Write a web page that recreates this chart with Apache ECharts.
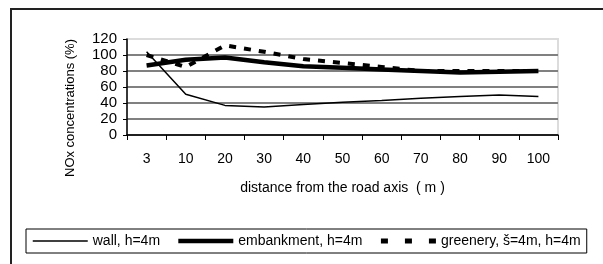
<!DOCTYPE html>
<html>
<head>
<meta charset="utf-8">
<script src="https://cdn.jsdelivr.net/npm/echarts@6/dist/echarts.min.js"></script>
<style>
  html, body { margin: 0; padding: 0; background: #fff; }
  #chart { width: 603px; height: 264px; }
</style>
</head>
<body>
<div id="chart"></div>
<script>
// distance from the road axis (m)
const distances = ['3', '10', '20', '30', '40', '50', '60', '70', '80', '90', '100'];
// NOx concentrations (%)
const wall = [104, 51, 37, 35, 38, 41, 43, 46, 48, 50, 48];
const embankment = [87, 94, 97, 91, 86, 84, 82, 80, 78, 79, 80];
const greenery = [100, 85, 112, 104, 95, 90, 85, 80, 80, 80, 80];
const seriesNames = ['wall, h=4m', 'embankment, h=4m', 'greenery, š=4m, h=4m'];

const font = "'Liberation Sans', Arial, sans-serif";

const chart = echarts.init(document.getElementById('chart'));

chart.setOption({
    animation: false,
    textStyle: { fontFamily: font, color: '#000' },
    grid: {
        left: 127, right: 45, top: 39, bottom: 129,
        show: true,
        borderColor: '#dcdcdc',
        borderWidth: 2
    },
    legend: {
        left: 26,
        top: 229,
        padding: [5, 6],
        itemWidth: 55,
        itemHeight: 14,
        itemGap: 16,
        borderColor: '#000',
        borderWidth: 1,
        itemStyle: { opacity: 0 },
        lineStyle: { width: 'inherit' },
        textStyle: { fontSize: 14, fontFamily: font, color: '#000' },
        data: [
            { name: seriesNames[0] },
            { name: seriesNames[1] },
            { name: seriesNames[2], lineStyle: { type: [7, 17], width: 5 } }
        ]
    },
    xAxis: {
        type: 'category',
        data: distances,
        boundaryGap: true,
        name: 'distance from the road axis  ( m )',
        nameLocation: 'middle',
        nameGap: 46,
        nameTextStyle: { fontSize: 14, fontFamily: font, color: '#000' },
        axisLine: { lineStyle: { color: '#000', width: 1.5 } },
        axisTick: { show: true, length: 5, lineStyle: { color: '#000' } },
        axisLabel: { fontSize: 14, margin: 17, color: '#000', fontFamily: font },
        splitLine: { show: false }
    },
    yAxis: {
        type: 'value',
        min: 0,
        max: 120,
        interval: 20,
        axisLine: { show: true, lineStyle: { color: '#000', width: 1.5 } },
        axisTick: { show: true, length: 4, lineStyle: { color: '#000' } },
        axisLabel: { fontSize: 15, margin: 10, color: '#000', fontFamily: font },
        splitLine: {
            show: true,
            lineStyle: {
                color: ['#808080', '#808080', '#808080', '#808080', '#808080', '#808080', '#dcdcdc'],
                width: 2
            }
        }
    },
    series: [
        {
            name: seriesNames[0],
            type: 'line',
            data: wall,
            symbol: 'none',
            lineStyle: { color: '#000', width: 1.5 },
            itemStyle: { color: '#000' }
        },
        {
            name: seriesNames[1],
            type: 'line',
            data: embankment,
            symbol: 'none',
            lineStyle: { color: '#000', width: 4.5 },
            itemStyle: { color: '#000' }
        },
        {
            name: seriesNames[2],
            type: 'line',
            data: greenery,
            symbol: 'none',
            lineStyle: { color: '#000', width: 4, type: [7, 8], cap: 'butt' },
            itemStyle: { color: '#000' }
        }
    ],
    graphic: [
        {
            type: 'polyline',
            silent: true,
            shape: { points: [[11, 264], [11, 9], [603, 9]] },
            style: { stroke: '#222', lineWidth: 2, fill: null }
        },
        {
            type: 'text',
            silent: true,
            x: 70,
            y: 108,
            rotation: Math.PI / 2,
            style: {
                text: 'NOx concentrations (%)',
                font: '13px ' + font,
                fill: '#000',
                align: 'center',
                verticalAlign: 'middle'
            }
        }
    ]
});
</script>
</body>
</html>
